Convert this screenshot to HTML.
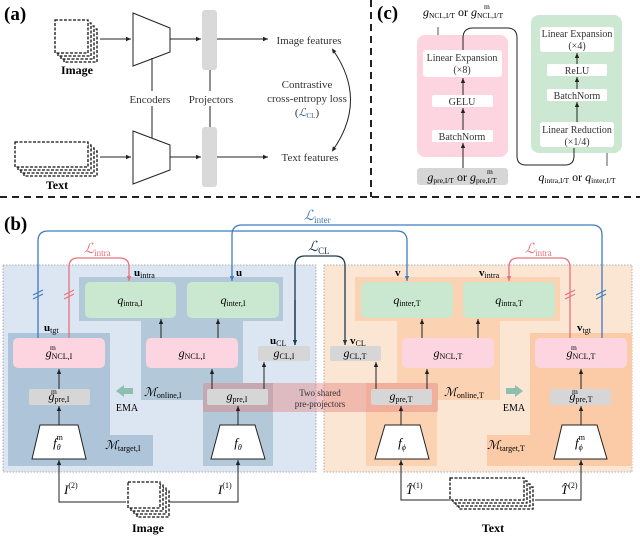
<!DOCTYPE html>
<html><head><meta charset="utf-8"><style>
html,body{margin:0;padding:0;background:#fff;}
svg{display:block;font-family:"Liberation Serif",serif;}
</style></head><body>
<svg width="640" height="537" viewBox="0 0 640 537" xmlns="http://www.w3.org/2000/svg">
<defs>
<marker id="ar" markerWidth="6" markerHeight="6" refX="5" refY="3" orient="auto" markerUnits="userSpaceOnUse"><path d="M0,0.8 L5,3 L0,5.2z" fill="#222"/></marker>
<marker id="arb" markerWidth="6" markerHeight="6" refX="5" refY="3" orient="auto" markerUnits="userSpaceOnUse"><path d="M0,0.8 L5,3 L0,5.2z" fill="#3f7cc0"/></marker>
<marker id="arr" markerWidth="6" markerHeight="6" refX="5" refY="3" orient="auto" markerUnits="userSpaceOnUse"><path d="M0,0.8 L5,3 L0,5.2z" fill="#e8707a"/></marker>
<marker id="ard" markerWidth="6" markerHeight="6" refX="5" refY="3" orient="auto" markerUnits="userSpaceOnUse"><path d="M0,0.8 L5,3 L0,5.2z" fill="#1d3a4c"/></marker>
<marker id="ars" markerWidth="6" markerHeight="6" refX="3" refY="3" orient="auto-start-reverse" markerUnits="userSpaceOnUse"><path d="M0,0.8 L5,3 L0,5.2z" fill="#222"/></marker>
</defs>

<line x1="0" y1="197" x2="640" y2="197" stroke="#222" stroke-width="2" stroke-dasharray="7,5"/>
<line x1="371" y1="0" x2="371" y2="197" stroke="#222" stroke-width="2" stroke-dasharray="7,5"/>

<!-- ===== (a) ===== -->
<text x="4" y="20" font-size="19" font-weight="bold">(a)</text>
<g fill="#fff" stroke="#111" stroke-width="1.3" stroke-dasharray="3,1.5">
<rect x="64" y="29" width="33" height="33"/><rect x="61" y="26" width="33" height="33"/><rect x="58" y="23" width="33" height="33"/><rect x="55" y="20" width="33" height="33"/>
<rect x="24" y="151" width="73" height="25"/><rect x="21" y="148" width="73" height="25"/><rect x="18" y="145" width="73" height="25"/><rect x="15" y="142" width="73" height="25"/>
</g>
<text x="77" y="74" font-size="12" font-weight="bold" text-anchor="middle">Image</text>
<text x="57" y="189" font-size="12" font-weight="bold" text-anchor="middle">Text</text>
<g stroke="#222" stroke-width="1" fill="none">
<line x1="100" y1="39" x2="131" y2="39" marker-end="url(#ar)"/>
<line x1="100" y1="157" x2="131" y2="157" marker-end="url(#ar)"/>
<line x1="170" y1="39" x2="201" y2="39" marker-end="url(#ar)"/>
<line x1="170" y1="157" x2="201" y2="157" marker-end="url(#ar)"/>
<line x1="217" y1="39" x2="268" y2="39" marker-end="url(#ar)"/>
<line x1="217" y1="157" x2="268" y2="157" marker-end="url(#ar)"/>
<polygon points="133,13 170,28 170,52 133,66" fill="#fff"/>
<polygon points="133,131 170,145 170,170 133,184" fill="#fff"/>
<line x1="152" y1="58" x2="152" y2="91"/><line x1="152" y1="106" x2="152" y2="138"/>
<line x1="210" y1="70" x2="210" y2="91"/><line x1="210" y1="106" x2="210" y2="127"/>
<path d="M333,50 Q368,100 333,150" marker-start="url(#ars)" marker-end="url(#ars)"/>
</g>
<rect x="202" y="10" width="15" height="60" rx="3" fill="#d9d9d9"/>
<rect x="202" y="127" width="15" height="60" rx="3" fill="#d9d9d9"/>
<g fill="#333" font-size="11">
<text x="150" y="103" text-anchor="middle">Encoders</text>
<text x="211" y="103" text-anchor="middle">Projectors</text>
<text x="309" y="44" text-anchor="middle">Image features</text>
<text x="310" y="161" text-anchor="middle">Text features</text>
<text x="307" y="88" text-anchor="middle">Contrastive</text>
<text x="307" y="102" text-anchor="middle">cross-entropy loss</text>
<text x="307" y="116" text-anchor="middle">(<tspan font-style="italic" fill="#2f5f8a">ℒ</tspan><tspan font-size="7" dy="2" fill="#2f5f8a">CL</tspan><tspan dy="-2">)</tspan></text>
</g>

<!-- ===== (c) ===== -->
<text x="377" y="19" font-size="19" font-weight="bold">(c)</text>
<rect x="417" y="35" width="91" height="122" rx="8" fill="#fdd5e0"/>
<rect x="531" y="15" width="91" height="138" rx="8" fill="#cde8d2"/>
<rect x="417" y="168" width="91" height="17" rx="3" fill="#d6d6d6"/>
<g fill="#fff">
<rect x="423" y="50" width="79" height="27" rx="3"/>
<rect x="432" y="95" width="61" height="12" rx="2"/>
<rect x="432" y="130" width="61" height="12" rx="2"/>
<rect x="540" y="27" width="74" height="25" rx="3"/>
<rect x="547" y="64" width="60" height="12" rx="2"/>
<rect x="547" y="89" width="60" height="12" rx="2"/>
<rect x="540" y="122" width="74" height="25" rx="3"/>
</g>
<g stroke="#222" stroke-width="1" fill="none">
<path d="M463,50 L463,38 Q463,28 473,28 L507,28 Q517,28 517,38 L517,156 Q517,165 526,165 L565,165 Q574,165 574,156 L574,148"/>
<line x1="463" y1="168" x2="463" y2="143" marker-end="url(#ar)"/>
<line x1="463" y1="130" x2="463" y2="108" marker-end="url(#ar)"/>
<line x1="463" y1="95" x2="463" y2="78" marker-end="url(#ar)"/>
<line x1="577" y1="122" x2="577" y2="102" marker-end="url(#ar)"/>
<line x1="577" y1="89" x2="577" y2="77" marker-end="url(#ar)"/>
<line x1="577" y1="64" x2="577" y2="53" marker-end="url(#ar)"/>
<line x1="438" y1="27" x2="438" y2="35" stroke="#555"/>
<line x1="607" y1="153" x2="607" y2="166" stroke="#555"/>
</g>
<g font-size="10" fill="#333" text-anchor="middle">
<text x="462" y="61">Linear Expansion</text><text x="462" y="73">(×8)</text>
<text x="462" y="105">GELU</text>
<text x="462" y="140">BatchNorm</text>
<text x="577" y="37">Linear Expansion</text><text x="577" y="49">(×4)</text>
<text x="577" y="74">ReLU</text>
<text x="577" y="99">BatchNorm</text>
<text x="577" y="133">Linear Reduction</text><text x="577" y="145">(×1/4)</text>
</g>
<text x="462" y="181" font-size="12" text-anchor="middle"><tspan font-style="italic">g</tspan><tspan font-size="7.5" dy="2">pre,I/T</tspan><tspan dy="-2"> or </tspan><tspan font-style="italic">g</tspan><tspan font-size="7.5" dy="2">pre,I/T</tspan></text>
<text x="487" y="174" font-size="7.5">m</text>
<text x="463" y="16" font-size="12" text-anchor="middle"><tspan font-style="italic">g</tspan><tspan font-size="7.5" dy="2">NCL,I/T</tspan><tspan dy="-2"> or </tspan><tspan font-style="italic">g</tspan><tspan font-size="7.5" dy="2">NCL,I/T</tspan></text>
<text x="484" y="9" font-size="7.5">m</text>
<text x="577" y="181" font-size="12" text-anchor="middle"><tspan font-style="italic">q</tspan><tspan font-size="7.5" dy="2">intra,I/T</tspan><tspan dy="-2"> or </tspan><tspan font-style="italic">q</tspan><tspan font-size="7.5" dy="2">inter,I/T</tspan></text>

<!-- ===== (b) ===== -->
<text x="4" y="230" font-size="19" font-weight="bold">(b)</text>
<rect x="3" y="265" width="313" height="207" fill="#dce6f2" stroke="#999" stroke-width="0.8" stroke-dasharray="1.5,1.5"/>
<rect x="324" y="265" width="308" height="207" fill="#fbe6d4" stroke="#999" stroke-width="0.8" stroke-dasharray="1.5,1.5"/>
<path d="M8,333 L110,333 L110,435 L153,435 L153,466 L8,466z" fill="#aec4d9"/>
<path d="M79,277 L283,277 L283,321 L243,321 L243,383 L273,383 L273,466 L203,466 L203,400 L141,400 L141,321 L79,321z" fill="#b3c8d8"/>
<path d="M530,333 L632,333 L632,466 L487,466 L487,435 L530,435z" fill="#fbcba7"/>
<path d="M355,277 L560,277 L560,321 L500,321 L500,400 L437,400 L437,466 L366,466 L366,383 L397,383 L397,321 L355,321z" fill="#fbd3b2"/>
<rect x="203" y="383" width="235" height="29" rx="2" fill="#e07878" fill-opacity="0.4"/>

<rect x="85" y="282" width="91" height="36" rx="5" fill="#cae7d0"/>
<rect x="187" y="282" width="92" height="36" rx="5" fill="#cae7d0"/>
<rect x="361" y="282" width="92" height="36" rx="5" fill="#cae7d0"/>
<rect x="463" y="282" width="92" height="36" rx="5" fill="#cae7d0"/>
<rect x="13" y="338" width="92" height="30" rx="5" fill="#fdd5e0"/>
<rect x="146" y="338" width="92" height="30" rx="5" fill="#fdd5e0"/>
<rect x="402" y="338" width="92" height="30" rx="5" fill="#fdd5e0"/>
<rect x="535" y="338" width="92" height="30" rx="5" fill="#fdd5e0"/>
<rect x="258" y="346" width="52" height="15" rx="2" fill="#d6d6d6"/>
<rect x="330" y="346" width="51" height="15" rx="2" fill="#d6d6d6"/>
<rect x="29" y="389" width="61" height="16" rx="2" fill="#d6d6d6"/>
<rect x="207" y="389" width="61" height="16" rx="2" fill="#d6d6d6"/>
<rect x="371" y="389" width="61" height="16" rx="2" fill="#d6d6d6"/>
<rect x="550" y="389" width="61" height="16" rx="2" fill="#d6d6d6"/>
<g fill="#fff" stroke="#222" stroke-width="1">
<polygon points="40,425 78,425 86,459 32,459"/>
<polygon points="220,425 255,425 265,459 211,459"/>
<polygon points="385,425 420,425 429,459 375,459"/>
<polygon points="562,425 597,425 607,459 554,459"/>
</g>

<g stroke="#222" stroke-width="1" fill="none">
<line x1="59" y1="425" x2="59" y2="406" marker-end="url(#ar)"/>
<line x1="59" y1="389" x2="59" y2="369" marker-end="url(#ar)"/>
<line x1="238" y1="425" x2="238" y2="406" marker-end="url(#ar)"/>
<line x1="212" y1="389" x2="212" y2="369" marker-end="url(#ar)"/>
<line x1="264" y1="389" x2="264" y2="362" marker-end="url(#ar)"/>
<line x1="161" y1="338" x2="161" y2="319" marker-end="url(#ar)"/>
<line x1="218" y1="338" x2="218" y2="319" marker-end="url(#ar)"/>
<line x1="401" y1="425" x2="401" y2="406" marker-end="url(#ar)"/>
<line x1="427" y1="389" x2="427" y2="369" marker-end="url(#ar)"/>
<line x1="376" y1="389" x2="376" y2="362" marker-end="url(#ar)"/>
<line x1="422" y1="338" x2="422" y2="319" marker-end="url(#ar)"/>
<line x1="478" y1="338" x2="478" y2="319" marker-end="url(#ar)"/>
<line x1="581" y1="425" x2="581" y2="406" marker-end="url(#ar)"/>
<line x1="581" y1="389" x2="581" y2="369" marker-end="url(#ar)"/>
<path d="M126,502 L59,502 L59,460" marker-end="url(#ar)"/>
<path d="M168,502 L238,502 L238,460" marker-end="url(#ar)"/>
<path d="M450,500 L401,500 L401,460" marker-end="url(#ar)"/>
<path d="M535,500 L581,500 L581,460" marker-end="url(#ar)"/>
</g>
<g fill="#fff" stroke="#111" stroke-width="1.3" stroke-dasharray="3,1.5">
<rect x="137" y="491" width="32" height="26"/><rect x="134" y="488" width="32" height="26"/><rect x="131" y="485" width="32" height="26"/><rect x="128" y="482" width="32" height="26"/>
<rect x="459" y="487" width="74" height="22"/><rect x="456" y="484" width="74" height="22"/><rect x="453" y="481" width="74" height="22"/><rect x="450" y="478" width="74" height="22"/>
</g>
<text x="148" y="532" font-size="12" font-weight="bold" text-anchor="middle">Image</text>
<text x="493" y="532" font-size="12" font-weight="bold" text-anchor="middle">Text</text>

<g fill="none" stroke-width="1.3">
<path d="M38,338 L38,241 Q38,231 48,231 L397,231 Q407,231 407,241 L407,281" stroke="#3f7cc0" marker-end="url(#arb)"/>
<path d="M602,338 L602,235 Q602,225 592,225 L242,225 Q232,225 232,235 L232,281" stroke="#3f7cc0" marker-end="url(#arb)"/>
<path d="M69,338 L69,267 Q69,258 78,258 L120,258 Q129,258 129,267 L129,281" stroke="#e8707a" marker-end="url(#arr)"/>
<path d="M570,338 L570,267 Q570,258 561,258 L518,258 Q509,258 509,267 L509,281" stroke="#e8707a" marker-end="url(#arr)"/>
<path d="M295,345 L295,266 Q295,256 305,256 L335,256 Q345,256 345,266 L345,345" stroke="#1d3a4c" marker-end="url(#ard)"/>
<line x1="295" y1="300" x2="295" y2="345" stroke="#1d3a4c" marker-end="url(#ard)"/>
</g>
<g stroke-width="1.2">
<path d="M33,295 L43,290 M33,299 L43,294" stroke="#3f7cc0"/>
<path d="M64,295 L74,290 M64,299 L74,294" stroke="#e8707a"/>
<path d="M565,295 L575,290 M565,299 L575,294" stroke="#e8707a"/>
<path d="M596,295 L606,290 M596,299 L606,294" stroke="#3f7cc0"/>
</g>

<text x="304" y="220" font-size="14" font-style="italic" fill="#3f7cc0">ℒ<tspan font-size="9" font-style="normal" dy="3">inter</tspan></text>
<text x="84" y="253" font-size="14" font-style="italic" fill="#e8707a">ℒ<tspan font-size="9" font-style="normal" dy="3">intra</tspan></text>
<text x="525" y="253" font-size="14" font-style="italic" fill="#e8707a">ℒ<tspan font-size="9" font-style="normal" dy="3">intra</tspan></text>
<text x="308" y="251" font-size="14" font-style="italic" fill="#1d3a4c">ℒ<tspan font-size="9" font-style="normal" dy="3">CL</tspan></text>

<g font-size="11" font-weight="bold">
<text x="134" y="276">u<tspan font-size="8" font-weight="normal" dy="2">intra</tspan></text>
<text x="236" y="276">u</text>
<text x="44" y="331">u<tspan font-size="8" font-weight="normal" dy="2">tgt</tspan></text>
<text x="270" y="344">u<tspan font-size="8" font-weight="normal" dy="2">CL</tspan></text>
<text x="395" y="276">v</text>
<text x="479" y="276">v<tspan font-size="8" font-weight="normal" dy="2">intra</tspan></text>
<text x="577" y="331">v<tspan font-size="8" font-weight="normal" dy="2">tgt</tspan></text>
<text x="350" y="344">v<tspan font-size="8" font-weight="normal" dy="2">CL</tspan></text>
</g>

<g font-size="12" text-anchor="middle">
<text x="130" y="304"><tspan font-style="italic">q</tspan><tspan font-size="8" dy="2">intra,I</tspan></text>
<text x="233" y="304"><tspan font-style="italic">q</tspan><tspan font-size="8" dy="2">inter,I</tspan></text>
<text x="407" y="304"><tspan font-style="italic">q</tspan><tspan font-size="8" dy="2">inter,T</tspan></text>
<text x="509" y="304"><tspan font-style="italic">q</tspan><tspan font-size="8" dy="2">intra,T</tspan></text>
<text x="59" y="357"><tspan font-style="italic">g</tspan><tspan font-size="8" dy="2">NCL,I</tspan></text>
<text x="192" y="357"><tspan font-style="italic">g</tspan><tspan font-size="8" dy="2">NCL,I</tspan></text>
<text x="448" y="357"><tspan font-style="italic">g</tspan><tspan font-size="8" dy="2">NCL,T</tspan></text>
<text x="581" y="357"><tspan font-style="italic">g</tspan><tspan font-size="8" dy="2">NCL,T</tspan></text>
<text x="284" y="357"><tspan font-style="italic">g</tspan><tspan font-size="8" dy="2">CL,I</tspan></text>
<text x="355" y="357"><tspan font-style="italic">g</tspan><tspan font-size="8" dy="2">CL,T</tspan></text>
<text x="59" y="400"><tspan font-style="italic">g</tspan><tspan font-size="8" dy="2">pre,I</tspan></text>
<text x="237" y="400"><tspan font-style="italic">g</tspan><tspan font-size="8" dy="2">pre,I</tspan></text>
<text x="401" y="400"><tspan font-style="italic">g</tspan><tspan font-size="8" dy="2">pre,T</tspan></text>
<text x="581" y="400"><tspan font-style="italic">g</tspan><tspan font-size="8" dy="2">pre,T</tspan></text>
</g>
<g font-size="7.5">
<text x="50" y="350">m</text><text x="571" y="350">m</text>
<text x="51" y="394">m</text><text x="572" y="394">m</text>
</g>
<g font-size="13" text-anchor="middle" font-style="italic">
<text x="58" y="447">f<tspan font-size="8" dy="3">θ</tspan><tspan font-size="8" font-style="normal" dy="-10" dx="-4">m</tspan></text>
<text x="238" y="447">f<tspan font-size="8" dy="3">θ</tspan></text>
<text x="402" y="447">f<tspan font-size="8" dy="3">ϕ</tspan></text>
<text x="580" y="447">f<tspan font-size="8" dy="3">ϕ</tspan><tspan font-size="8" font-style="normal" dy="-10" dx="-4">m</tspan></text>
</g>
<g font-size="12">
<text x="105" y="449"><tspan font-style="italic">ℳ</tspan><tspan font-size="8" dy="2">target,I</tspan></text>
<text x="144" y="396"><tspan font-style="italic">ℳ</tspan><tspan font-size="8" dy="2">online,I</tspan></text>
<text x="444" y="396"><tspan font-style="italic">ℳ</tspan><tspan font-size="8" dy="2">online,T</tspan></text>
<text x="487" y="449"><tspan font-style="italic">ℳ</tspan><tspan font-size="8" dy="2">target,T</tspan></text>
</g>
<path d="M133,388 L124,388 L124,385 L116,391 L124,397 L124,394 L133,394z" fill="#8dbfaf"/>
<path d="M506,388 L515,388 L515,385 L523,391 L515,397 L515,394 L506,394z" fill="#8dbfaf"/>
<text x="127" y="411" font-size="10" text-anchor="middle">EMA</text>
<text x="514" y="411" font-size="10" text-anchor="middle">EMA</text>
<text x="320" y="396" font-size="9" text-anchor="middle" fill="#333">Two shared</text>
<text x="320" y="407" font-size="9" text-anchor="middle" fill="#333">pre-projectors</text>

<g font-size="13" font-style="italic">
<text x="64" y="494">I<tspan font-size="8" font-style="normal" dy="-6">(2)</tspan></text>
<text x="218" y="494">I<tspan font-size="8" font-style="normal" dy="-6">(1)</tspan></text>
<text x="406" y="494">T̂<tspan font-size="8" font-style="normal" dy="-6">(1)</tspan></text>
<text x="561" y="494">T̂<tspan font-size="8" font-style="normal" dy="-6">(2)</tspan></text>
</g>
</svg>
</body></html>
